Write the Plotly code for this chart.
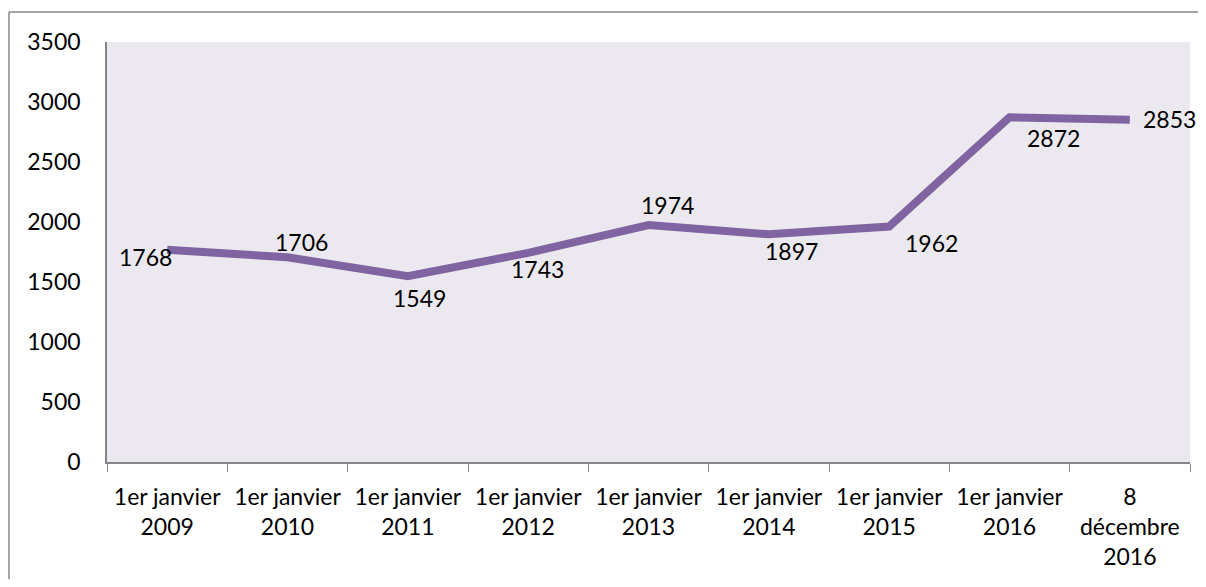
import plotly.graph_objects as go

categories = [
    "1er janvier<br>2009", "1er janvier<br>2010", "1er janvier<br>2011",
    "1er janvier<br>2012", "1er janvier<br>2013", "1er janvier<br>2014",
    "1er janvier<br>2015", "1er janvier<br>2016", "8<br>décembre<br>2016",
]
values = [1768, 1706, 1549, 1743, 1974, 1897, 1962, 2872, 2853]
y_ticks = [0, 500, 1000, 1500, 2000, 2500, 3000, 3500]

# label offsets (pixels) relative to each point
label_dx = [-22, 14, 12, 9, 19, 23, 42, 44, 40]
label_dy = [-7, 15, -22, -16, 20, -17, -16, -21, 1]

FONT = "Lato, 'Open Sans', sans-serif"
FS = 23

fig = go.Figure()
fig.add_trace(go.Scatter(
    x=categories, y=values, mode="lines",
    line=dict(color="#8064A2", width=8),
    hoverinfo="skip", showlegend=False,
))

for c, v, dx, dy in zip(categories, values, label_dx, label_dy):
    fig.add_annotation(x=c, y=v, text=str(v), showarrow=False,
                       xshift=dx, yshift=dy,
                       font=dict(family=FONT, size=FS, color="#000000"))

# outer chart border (left and top edges visible)
fig.add_shape(type="line", xref="paper", yref="paper",
              x0=-0.0905, x1=-0.0905, y0=-0.5, y1=1.0714,
              line=dict(color="#868686", width=1.5))
fig.add_shape(type="line", xref="paper", yref="paper",
              x0=-0.0905, x1=1.2, y0=1.0714, y1=1.0714,
              line=dict(color="#868686", width=1.5))

fig.update_layout(
    width=1190, height=571,
    margin=dict(l=99, r=8, t=34, b=117),
    paper_bgcolor="white",
    plot_bgcolor="#EBE9EF",
    font=dict(family=FONT, size=FS, color="#000000"),
    xaxis=dict(
        type="category", range=[-0.5, 8.5],
        tickson="boundaries", ticks="outside", ticklen=8,
        tickcolor="#868686", showline=True, linecolor="#868686", linewidth=1.5,
        showgrid=False, zeroline=False, tickfont=dict(size=FS),
        ticklabelstandoff=14, fixedrange=True,
    ),
    yaxis=dict(
        range=[0, 3500], tickvals=y_ticks, ticks="",
        showline=True, linecolor="#868686", linewidth=1.5,
        showgrid=False, zeroline=False, ticklabelstandoff=20,
        tickfont=dict(size=FS), fixedrange=True,
    ),
)

fig.write_html("out.html")
